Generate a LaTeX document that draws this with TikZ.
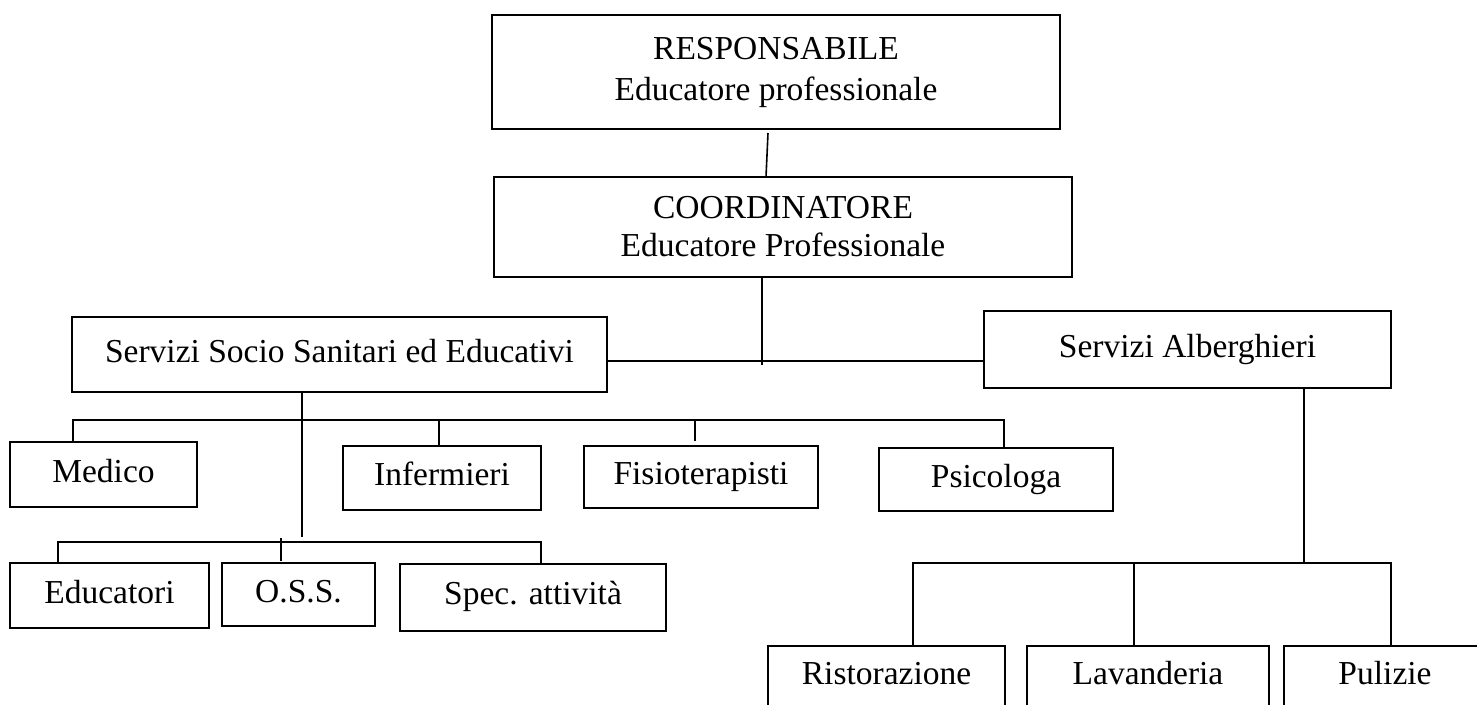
\documentclass[tikz,border=0pt]{standalone}
\usepackage{fontspec}
\setmainfont{Liberation Serif}
\begin{document}
\begin{tikzpicture}
[x=1pt,y=-1pt,
  lineDecorate/.style={-,line width=1.6pt},%
  boxDecorate/.style={shape=rectangle,draw,line width=2pt,inner sep=0pt,outer sep=0pt,
    font=\fontsize{33.5}{40}\selectfont},
  singleText/.style={text height=23pt,text depth=8pt},
  scale=1]
\useasboundingbox (0,0) rectangle (1477,704);
\clip (0,0) rectangle (1477,704);
%% boxes with two lines
\node (resp) at (776,72) [boxDecorate,align=center,minimum width=568pt,minimum height=114pt]
  {RESPONSABILE\\[1pt]Educatore professionale};
\node (coord) at (783,227) [boxDecorate,align=center,minimum width=578pt,minimum height=100pt]
  {COORDINATORE\\[-2pt]Educatore Professionale};
%% boxes with one line
\foreach \nodename/\x/\y/\w/\h/\txt in {
  socio/339.5/354.5/535/75/Servizi Socio Sanitari ed Educativi,
  alb/1187.5/349.5/407/77/Servizi Alberghieri,
  medico/103.5/474.5/187/65/Medico, infer/442/478/198/64/Infermieri,
  fisio/701/477/234/62/Fisioterapisti, psico/996/479.5/234/63/Psicologa,
  educ/109.5/595.5/199/65/Educatori, oss/298.5/594.5/153/63/O.S.S.,
  spec/533/597/266/67/Spec. attività,
  risto/886.5/677/237/62/Ristorazione, lava/1148/677/242/62/Lavanderia,
  pul/1385/677/202/62/Pulizie}
{
  \node (\nodename) at (\x,\y) [boxDecorate,singleText,minimum width=\w pt,minimum height=\h pt] {\txt};
}
%% bus points
\coordinate (hub) at (762,361);
\coordinate (sL) at (73,420);  \coordinate (sR) at (1004,420);
\coordinate (sv) at (302,537);
\coordinate (eL) at (58,542);  \coordinate (eR) at (541,542);
\coordinate (ot) at (281,538);
\coordinate (av) at (1304,563);
\coordinate (aL) at (913,563); \coordinate (aR) at (1391,563);
%% edges or lines
\draw[lineDecorate] ([xshift=-8pt,yshift=-4pt]resp.south) -- ([xshift=-17pt]coord.north);
\draw[lineDecorate] (coord.south -| hub) -- ([yshift=-4pt]hub);
\draw[lineDecorate] (socio.east |- hub) -- (alb.west |- hub);
\draw[lineDecorate] (socio.south -| sv) -- (sv);
\draw[lineDecorate] (medico.north -| sL) -- (sL) -- (sR) -- (psico.north -| sR);
\draw[lineDecorate] ([xshift=-3pt]infer.north) |- (sL);
\draw[lineDecorate] ([xshift=-6pt,yshift=5pt]fisio.north) |- (sL);
\draw[lineDecorate] (educ.north -| eL) -- (eL) -- (eR) -- (spec.north -| eR);
\draw[lineDecorate] ([xshift=-17.5pt,yshift=2pt]oss.north) -- (ot);
\draw[lineDecorate] (alb.south -| av) -- (av);
\draw[lineDecorate] (risto.north -| aL) -- (aL) -- (aR) -- (pul.north -| aR);
\draw[lineDecorate] ([xshift=-14pt]lava.north) |- (aL);
\end{tikzpicture}
\end{document}
